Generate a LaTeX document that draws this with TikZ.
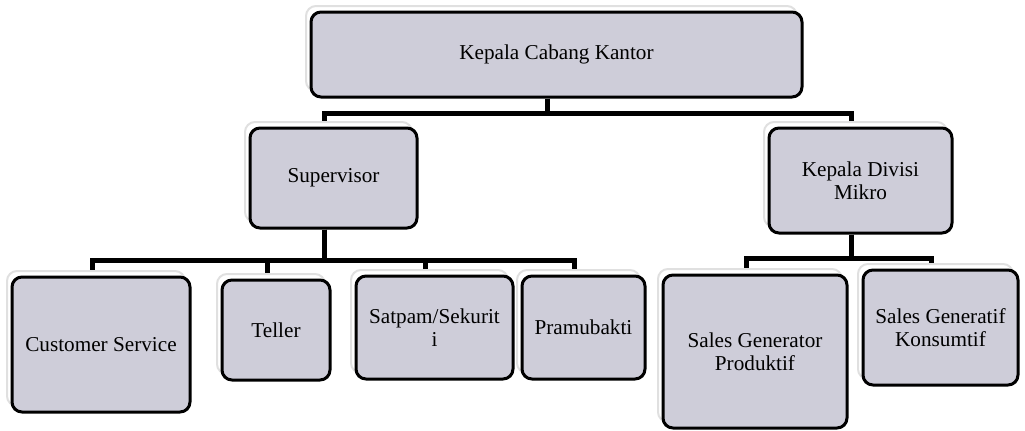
\documentclass[tikz,border=0pt]{standalone}
\usepackage{fontspec}
\setmainfont{Liberation Serif}
\usetikzlibrary{shadows,backgrounds}
\definecolor{boxfill}{RGB}{206,205,217}

\begin{document}
\begin{tikzpicture}[
        x=0.5pt, y=-0.5pt, % 1 unit = 1 pixel of the reference
        cell/.style={draw, line width=1.5pt, rounded corners=5pt, fill=boxfill, align=center,
            inner sep=2pt, font=\fontsize{10.6}{11.5}\selectfont,
            copy shadow={shadow xshift=-2.5pt, shadow yshift=3pt, fill=white, draw=black!12, line width=1pt}}, % Stil kotak
        link/.style={line width=2.5pt},
    ]
    \useasboundingbox (0,0) rectangle (1025,430);

    \node[cell, minimum width=245.5pt, minimum height=42.5pt] (kcc) at (556.5,54.5) {Kepala Cabang Kantor};

    \node[cell, minimum width=83.5pt, minimum height=50pt] (sup) at (333.5,178) {Supervisor};
    \node[cell, minimum width=91.5pt, minimum height=52.5pt] (kdm) at (860.5,180.5) {Kepala Divisi\\Mikro};

    \node[cell, minimum width=89pt, minimum height=67.5pt] (cs) at (101,344.5) {Customer Service};
    \node[cell, minimum width=54pt, minimum height=50pt] (tel) at (276,330) {Teller};
    \node[cell, minimum width=78.5pt, minimum height=51.5pt] (sat) at (434.5,327.5) {Satpam/Sekurit\\i};
    \node[cell, minimum width=61.5pt, minimum height=51.5pt] (pra) at (583.5,327.5) {Pramubakti};

    \node[cell, minimum width=92pt, minimum height=76.5pt] (sgp) at (755,351.5) {Sales Generator\\Produktif};
    \node[cell, minimum width=77.5pt, minimum height=57.5pt] (sgk) at (940.5,327.5) {Sales Generatif\\Konsumtif};

    % Garis penghubung
    \begin{scope}[on background layer]
        \foreach \c in {sup,kdm}
            \draw[link] ([xshift=-4.5pt]kcc.south) -- ++(0,15) -| ([xshift=-4.5pt]\c.north);
        \foreach \c in {cs,tel,sat,pra}
            \draw[link] ([xshift=-4.5pt]sup.south) -- ++(0,31) -| ([xshift=-4.5pt]\c.north);
        \foreach \c in {sgp,sgk}
            \draw[link] ([xshift=-4.5pt]kdm.south) -- ++(0,24) -| ([xshift=-4.5pt]\c.north);
    \end{scope}
\end{tikzpicture}
\end{document}
